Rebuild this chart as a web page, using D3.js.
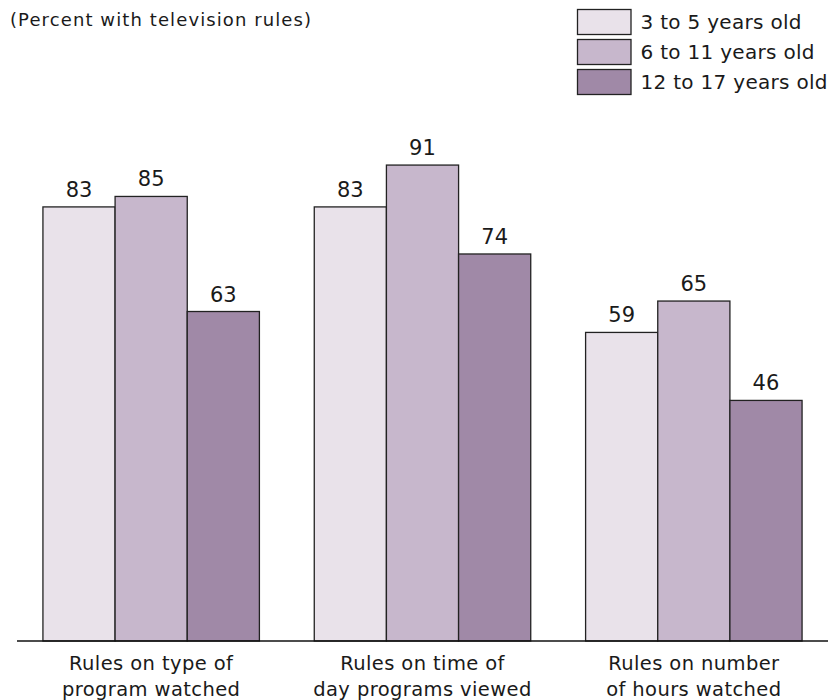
<!DOCTYPE html>
<html>
<head>
<meta charset="utf-8">
<script src="https://cdn.jsdelivr.net/npm/d3@7"></script>
<style>
  body { margin: 0; background: #fff; }
  svg { display: block; }
  text { font-family: "DejaVu Sans", sans-serif; fill: #1a1a1a; }
</style>
</head>
<body>
<svg id="chart" width="840" height="700"></svg>
<script>
const categories = [
  ["Rules on type of", "program watched"],
  ["Rules on time of", "day programs viewed"],
  ["Rules on number", "of hours watched"]
];
const seriesNames = ["3 to 5 years old", "6 to 11 years old", "12 to 17 years old"];
const age3to5 = [83, 83, 59];
const age6to11 = [85, 91, 65];
const age12to17 = [63, 74, 46];
const seriesColors = ["#e9e2ea", "#c7b7cc", "#a089a7"];
const titleText = "(Percent with television rules)";

const series = [age3to5, age6to11, age12to17];
const svg = d3.select("#chart");

const x0 = d3.scaleBand()
  .domain(d3.range(categories.length))
  .range([15.5, 829.5])
  .paddingInner(0.2022)
  .paddingOuter(0.1011);
const x1 = d3.scaleBand()
  .domain(d3.range(series.length))
  .range([0, x0.bandwidth()]);
const y = d3.scaleLinear().domain([0, 100]).range([641, 118]);

// bars
const groups = svg.append("g").selectAll("g")
  .data(categories.map((c, i) => i))
  .join("g")
  .attr("transform", i => `translate(${x0(i)},0)`);

groups.selectAll("rect")
  .data(i => series.map((s, j) => ({ j, v: s[i] })))
  .join("rect")
  .attr("x", d => x1(d.j))
  .attr("y", d => y(d.v))
  .attr("width", x1.bandwidth())
  .attr("height", d => y(0) - y(d.v))
  .attr("fill", d => seriesColors[d.j])
  .attr("stroke", "#222")
  .attr("stroke-width", 1.3);

groups.selectAll("text.val")
  .data(i => series.map((s, j) => ({ j, v: s[i] })))
  .join("text")
  .attr("class", "val")
  .attr("x", d => x1(d.j) + x1.bandwidth() / 2)
  .attr("y", d => y(d.v) - 10)
  .attr("text-anchor", "middle")
  .style("font-size", "21px")
  .text(d => d.v);

// axis baseline
svg.append("line")
  .attr("x1", 17).attr("x2", 828)
  .attr("y1", y(0)).attr("y2", y(0))
  .attr("stroke", "#111").attr("stroke-width", 1.6);

// category labels
const xAxis = d3.axisBottom(x0).tickSize(0).tickFormat(() => "");
const ax = svg.append("g").attr("transform", `translate(0,${y(0)})`).call(xAxis);
ax.select(".domain").remove();
ax.selectAll(".tick").each(function(i) {
  const t = d3.select(this).append("text")
    .attr("text-anchor", "middle")
    .style("font-size", "19.5px")
    .style("letter-spacing", "0.4px")
    .style("fill", "#1a1a1a");
  categories[i].forEach((line, k) => {
    t.append("tspan").attr("x", 0).attr("y", 29 + k * 25.5).text(line);
  });
});

// title
svg.append("text")
  .attr("x", 10).attr("y", 26)
  .style("font-size", "18px")
  .style("letter-spacing", "1.1px")
  .text(titleText);

// legend
const leg = svg.append("g").selectAll("g")
  .data(seriesNames)
  .join("g")
  .attr("transform", (d, i) => `translate(577.5,${9.5 + i * 30})`);
leg.append("rect")
  .attr("width", 53.5).attr("height", 25)
  .attr("fill", (d, i) => seriesColors[i])
  .attr("stroke", "#222").attr("stroke-width", 1.3);
leg.append("text")
  .attr("x", 63).attr("y", 19.5)
  .style("font-size", "20px")
  .style("letter-spacing", "0.3px")
  .text(d => d);
</script>
</body>
</html>
